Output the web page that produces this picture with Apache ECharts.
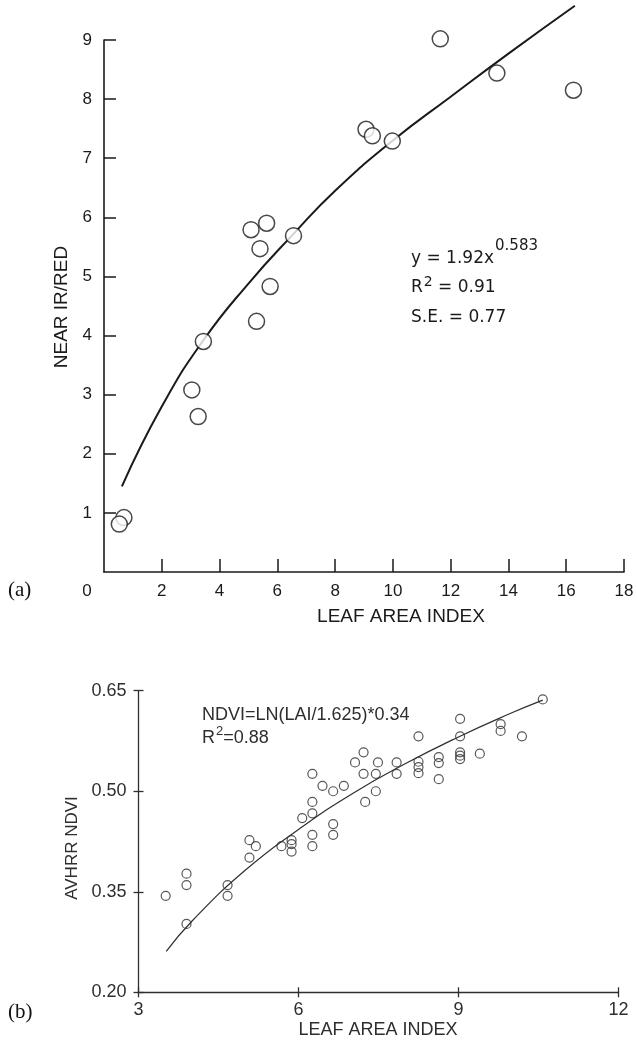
<!DOCTYPE html>
<html>
<head>
<meta charset="utf-8">
<script src="https://cdn.jsdelivr.net/npm/echarts@6/dist/echarts.min.js"></script>
<style>
  html, body { margin: 0; padding: 0; background: #fff; }
  #chart { width: 637px; height: 1041px; }
</style>
</head>
<body>
<div id="chart"></div>
<script>
// ---- Panel (a): near IR / red ratio against leaf area index ----
const laiA   = [11.64, 13.60, 16.25, 9.07, 9.29, 9.98, 5.09, 5.63, 5.40, 6.56, 5.75, 5.28, 3.44, 3.04, 3.26, 0.69, 0.53];
const ratioA = [ 9.02,  8.44,  8.15, 7.49, 7.38, 7.29, 5.79, 5.90, 5.47, 5.69, 4.83, 4.24, 3.90, 3.08, 2.63, 0.92, 0.81];
// power-law fit line, sampled along its drawn path
const fitLaiA   = [0.62, 2.0, 3.44, 5.0, 6.56, 8.0, 10.0, 12.0, 14.0, 16.3];
const fitRatioA = [1.45, 2.80, 3.92, 4.88, 5.72, 6.45, 7.30, 8.04, 8.77, 9.58];
const xTicksA = [0, 18, 2];   // min, max, step
const yTicksA = [0, 9, 1];

// ---- Panel (b): AVHRR NDVI against leaf area index ----
const laiB = [10.58, 9.03, 9.79, 9.79, 8.25, 9.03, 10.19, 7.22, 9.03, 9.03, 9.03, 9.40,
              7.06, 7.49, 7.84, 8.25, 8.25, 8.25, 8.63, 8.63, 8.63, 7.84, 7.22, 7.45,
              6.26, 6.45, 6.65, 6.85, 7.45, 7.25, 6.26, 6.26, 6.07, 6.65, 6.65, 6.26,
              6.26, 5.87, 5.87, 5.87, 5.68, 5.08, 5.20, 5.08, 3.90, 3.90, 4.67, 4.67,
              3.51, 3.90];
const ndviB = [0.637, 0.608, 0.600, 0.590, 0.582, 0.582, 0.582, 0.558, 0.558, 0.553, 0.548, 0.556,
               0.543, 0.543, 0.543, 0.544, 0.536, 0.527, 0.551, 0.542, 0.518, 0.526, 0.526, 0.526,
               0.526, 0.508, 0.500, 0.508, 0.500, 0.484, 0.484, 0.467, 0.460, 0.451, 0.435, 0.435,
               0.418, 0.427, 0.421, 0.410, 0.418, 0.427, 0.418, 0.401, 0.377, 0.360, 0.360, 0.344,
               0.344, 0.302];
// logarithmic fit line, sampled along its drawn path
const fitLaiB  = [3.52, 4.0, 5.0, 6.0, 7.0, 8.0, 9.0, 10.0, 10.58];
const fitNdviB = [0.261, 0.306, 0.382, 0.443, 0.496, 0.541, 0.581, 0.617, 0.636];
const xTicksB = [3, 12, 3];
const yTicksB = [0.20, 0.35, 0.50, 0.65];

const pairs = (xs, ys) => xs.map((x, i) => [x, ys[i]]);

const INK = '#1a1a1a';
const INK_B = '#2e2e2e';
const SANS = '"Liberation Sans", Arial, sans-serif';
const WIDE = '"DejaVu Sans", sans-serif';
const SERIF = '"Liberation Serif", "Times New Roman", serif';

const measureCtx = document.createElement('canvas').getContext('2d');
function textWidth(str, font) { measureCtx.font = font; return measureCtx.measureText(str).width; }

function label(text, x, y, font, fill, opts) {
  opts = opts || {};
  return {
    type: 'text', x: x, y: y, rotation: opts.rotation || 0, z: 10,
    style: {
      text: text, font: font, fill: fill,
      align: opts.align || 'left', textAlign: opts.align || 'left',
      verticalAlign: 'middle', textVerticalAlign: 'middle'
    }
  };
}

// equation block of panel (a)
const fA = '17px ' + WIDE, fAsup = '15px ' + WIDE, fAsup2 = '14px ' + WIDE;
const eqA = 'y = 1.92x';
const eqAw = textWidth(eqA, fA);
const rW = textWidth('R', fA);
const supW = textWidth('2', fAsup2);
// equation block of panel (b)
const fB = '18px ' + SANS, fBsup = '13px ' + SANS;
const rWb = textWidth('R', fB);
const supWb = textWidth('2', fBsup);

const graphics = [
  // panel (a)
  label(eqA, 411, 259, fA, INK),
  label('0.583', 411 + eqAw + 1, 246, fAsup, INK),
  label('R', 411, 288, fA, INK),
  label('2', 411 + rW + 1, 282, fAsup2, INK),
  label(' = 0.91', 411 + rW + 1 + supW, 288, fA, INK),
  label('S.E. = 0.77', 411, 318, fA, INK),
  label('0', 87, 591, '17px ' + SANS, INK, { align: 'center' }),
  label('LEAF AREA INDEX', 401, 617, '19px ' + SANS, INK, { align: 'center' }),
  label('NEAR IR/RED', 62, 307, '19px ' + SANS, INK, { align: 'center', rotation: Math.PI / 2 }),
  label('(a)', 8, 590, '21px ' + SERIF, '#111'),
  // panel (b)
  label('NDVI=LN(LAI/1.625)*0.34', 202, 715, fB, INK_B),
  label('R', 202, 738, fB, INK_B),
  label('2', 202 + rWb + 1, 731, fBsup, INK_B),
  label('=0.88', 202 + rWb + 1 + supWb, 738, fB, INK_B),
  label('LEAF AREA INDEX', 378, 1030, '18px ' + SANS, INK_B, { align: 'center' }),
  label('AVHRR NDVI', 72, 848, '17px ' + SANS, INK_B, { align: 'center', rotation: Math.PI / 2 }),
  label('(b)', 8, 1012, '21px ' + SERIF, '#111')
];

const axisBase = (color, w) => ({
  type: 'value',
  axisLine: { show: true, onZero: false, lineStyle: { color: color, width: w } },
  splitLine: { show: false }
});

const chart = echarts.init(document.getElementById('chart'), null, { renderer: 'canvas' });
chart.setOption({
  animation: false,
  backgroundColor: '#fff',
  grid: [
    { left: 104, top: 40, width: 520, height: 532 },
    { left: 138.5, top: 690.7, width: 480, height: 301.6 }
  ],
  xAxis: [
    Object.assign(axisBase(INK, 1.6), {
      gridIndex: 0, min: xTicksA[0], max: xTicksA[1], interval: xTicksA[2],
      axisTick: { inside: true, length: 13, lineStyle: { color: INK, width: 1.5 } },
      axisLabel: { showMinLabel: false, color: INK, fontSize: 17, fontFamily: SANS, margin: 11 }
    }),
    Object.assign(axisBase(INK_B, 1.3), {
      gridIndex: 1, position: 'bottom', min: xTicksB[0], max: xTicksB[1], interval: xTicksB[2],
      axisTick: { inside: false, length: 5, lineStyle: { color: INK_B, width: 1.3 } },
      axisLabel: { color: INK_B, fontSize: 18, fontFamily: SANS, margin: 9 }
    }),
    Object.assign(axisBase(INK_B, 1.3), {
      gridIndex: 1, position: 'bottom', min: xTicksB[0], max: xTicksB[1], interval: xTicksB[2],
      axisLine: { show: false },
      axisTick: { inside: true, length: 5, lineStyle: { color: INK_B, width: 1.3 } },
      axisLabel: { show: false }
    })
  ],
  yAxis: [
    Object.assign(axisBase(INK, 1.6), {
      gridIndex: 0, min: yTicksA[0], max: yTicksA[1], interval: yTicksA[2],
      axisTick: { inside: true, length: 12, lineStyle: { color: INK, width: 1.5 } },
      axisLabel: { showMinLabel: false, color: INK, fontSize: 17, fontFamily: SANS, margin: 12 }
    }),
    Object.assign(axisBase(INK_B, 1.3), {
      gridIndex: 1, position: 'left', min: yTicksB[0], max: yTicksB[yTicksB.length - 1],
      axisTick: { inside: false, length: 5, customValues: yTicksB, lineStyle: { color: INK_B, width: 1.3 } },
      axisLabel: { customValues: yTicksB, color: INK_B, fontSize: 18, fontFamily: SANS, margin: 12,
                   formatter: v => v.toFixed(2) }
    }),
    Object.assign(axisBase(INK_B, 1.3), {
      gridIndex: 1, position: 'left', min: yTicksB[0], max: yTicksB[yTicksB.length - 1],
      axisLine: { show: false },
      axisTick: { inside: true, length: 5, customValues: yTicksB, lineStyle: { color: INK_B, width: 1.3 } },
      axisLabel: { show: false }
    })
  ],
  series: [
    {
      type: 'line', xAxisIndex: 0, yAxisIndex: 0, data: pairs(fitLaiA, fitRatioA),
      smooth: true, clip: false, symbol: 'none', silent: true, z: 2,
      lineStyle: { color: INK, width: 2 }
    },
    {
      type: 'scatter', xAxisIndex: 0, yAxisIndex: 0, data: pairs(laiA, ratioA),
      symbol: 'circle', symbolSize: 16, clip: false, z: 3,
      itemStyle: { color: '#fff', borderColor: INK, borderWidth: 1.5 }
    },
    {
      type: 'line', xAxisIndex: 1, yAxisIndex: 1, data: pairs(fitLaiB, fitNdviB),
      smooth: true, clip: false, symbol: 'none', silent: true, z: 2,
      lineStyle: { color: INK_B, width: 1.2 }
    },
    {
      type: 'scatter', xAxisIndex: 1, yAxisIndex: 1, data: pairs(laiB, ndviB),
      symbol: 'circle', symbolSize: 9, clip: false, z: 3,
      itemStyle: { color: 'rgba(0,0,0,0)', borderColor: INK_B, borderWidth: 1.2 }
    }
  ],
  graphic: graphics
});
</script>
</body>
</html>
